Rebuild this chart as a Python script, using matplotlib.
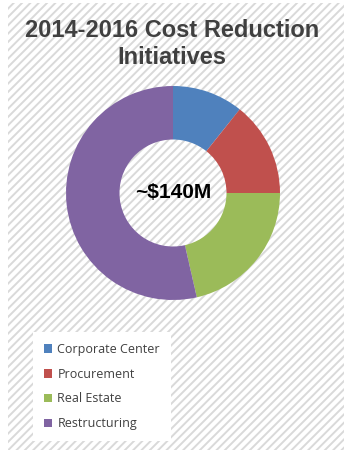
import matplotlib as mpl
import matplotlib.pyplot as plt
from matplotlib.patches import Rectangle

# savings per initiative, $M
categories = ['Corporate Center', 'Procurement', 'Real Estate', 'Restructuring']
values = [15, 20, 30, 75]
colors = ['#4F81BD', '#C0504D', '#9BBB59', '#8064A2']
total_label = '~$140M'
title = '2014-2016 Cost Reduction\nInitiatives'

mpl.rcParams['hatch.linewidth'] = 1.4

W, H = 344, 450
fig = plt.figure(figsize=(W / 100, H / 100), dpi=100)

# striped backdrop
bg = fig.add_axes([8 / W, 0, 1 - 8 / W, 1 - 3 / H])
bg.set_axis_off()
bg.add_patch(Rectangle((0, 0), 1, 1, transform=bg.transAxes, facecolor='white',
                       edgecolor='#d9d9d9', hatch='////', linewidth=0))

fig.text(0.5, 1 - 44 / H, title, ha='center', va='center', fontsize=17,
         fontweight='bold', color='#404040', family='Liberation Sans',
         linespacing=1.2)

# donut
cx, cy, half = 173, 193, 115
ax = fig.add_axes([(cx - half) / W, (H - cy - half) / H, 2 * half / W, 2 * half / H])
wedges, _ = ax.pie(values, colors=colors, startangle=90, counterclock=False,
                   wedgeprops=dict(width=0.5, linewidth=0))
lim = half / 107
ax.set_xlim(-lim, lim)
ax.set_ylim(-lim, lim)
ax.set_aspect('equal')
ax.set_axis_off()
ax.text(0, 0, total_label, ha='center', va='center', fontsize=15,
        fontweight='bold', color='black', family='Liberation Sans')

leg = fig.legend(wedges, categories, loc='upper left',
                 bbox_to_anchor=(33 / W, 1 - 332 / H), frameon=True,
                 handlelength=0.7, handleheight=0.7,
                 handletextpad=0.4, labelspacing=0.95, borderpad=0.85,
                 borderaxespad=0, prop={'family': 'Open Sans', 'size': 9})
leg.get_frame().set_facecolor('white')
leg.get_frame().set_edgecolor('none')
leg.get_frame().set_alpha(1)
leg.get_frame().set_boxstyle('square', pad=0)
for t in leg.get_texts():
    t.set_color('#404040')

fig.savefig('out.png', dpi=100)
